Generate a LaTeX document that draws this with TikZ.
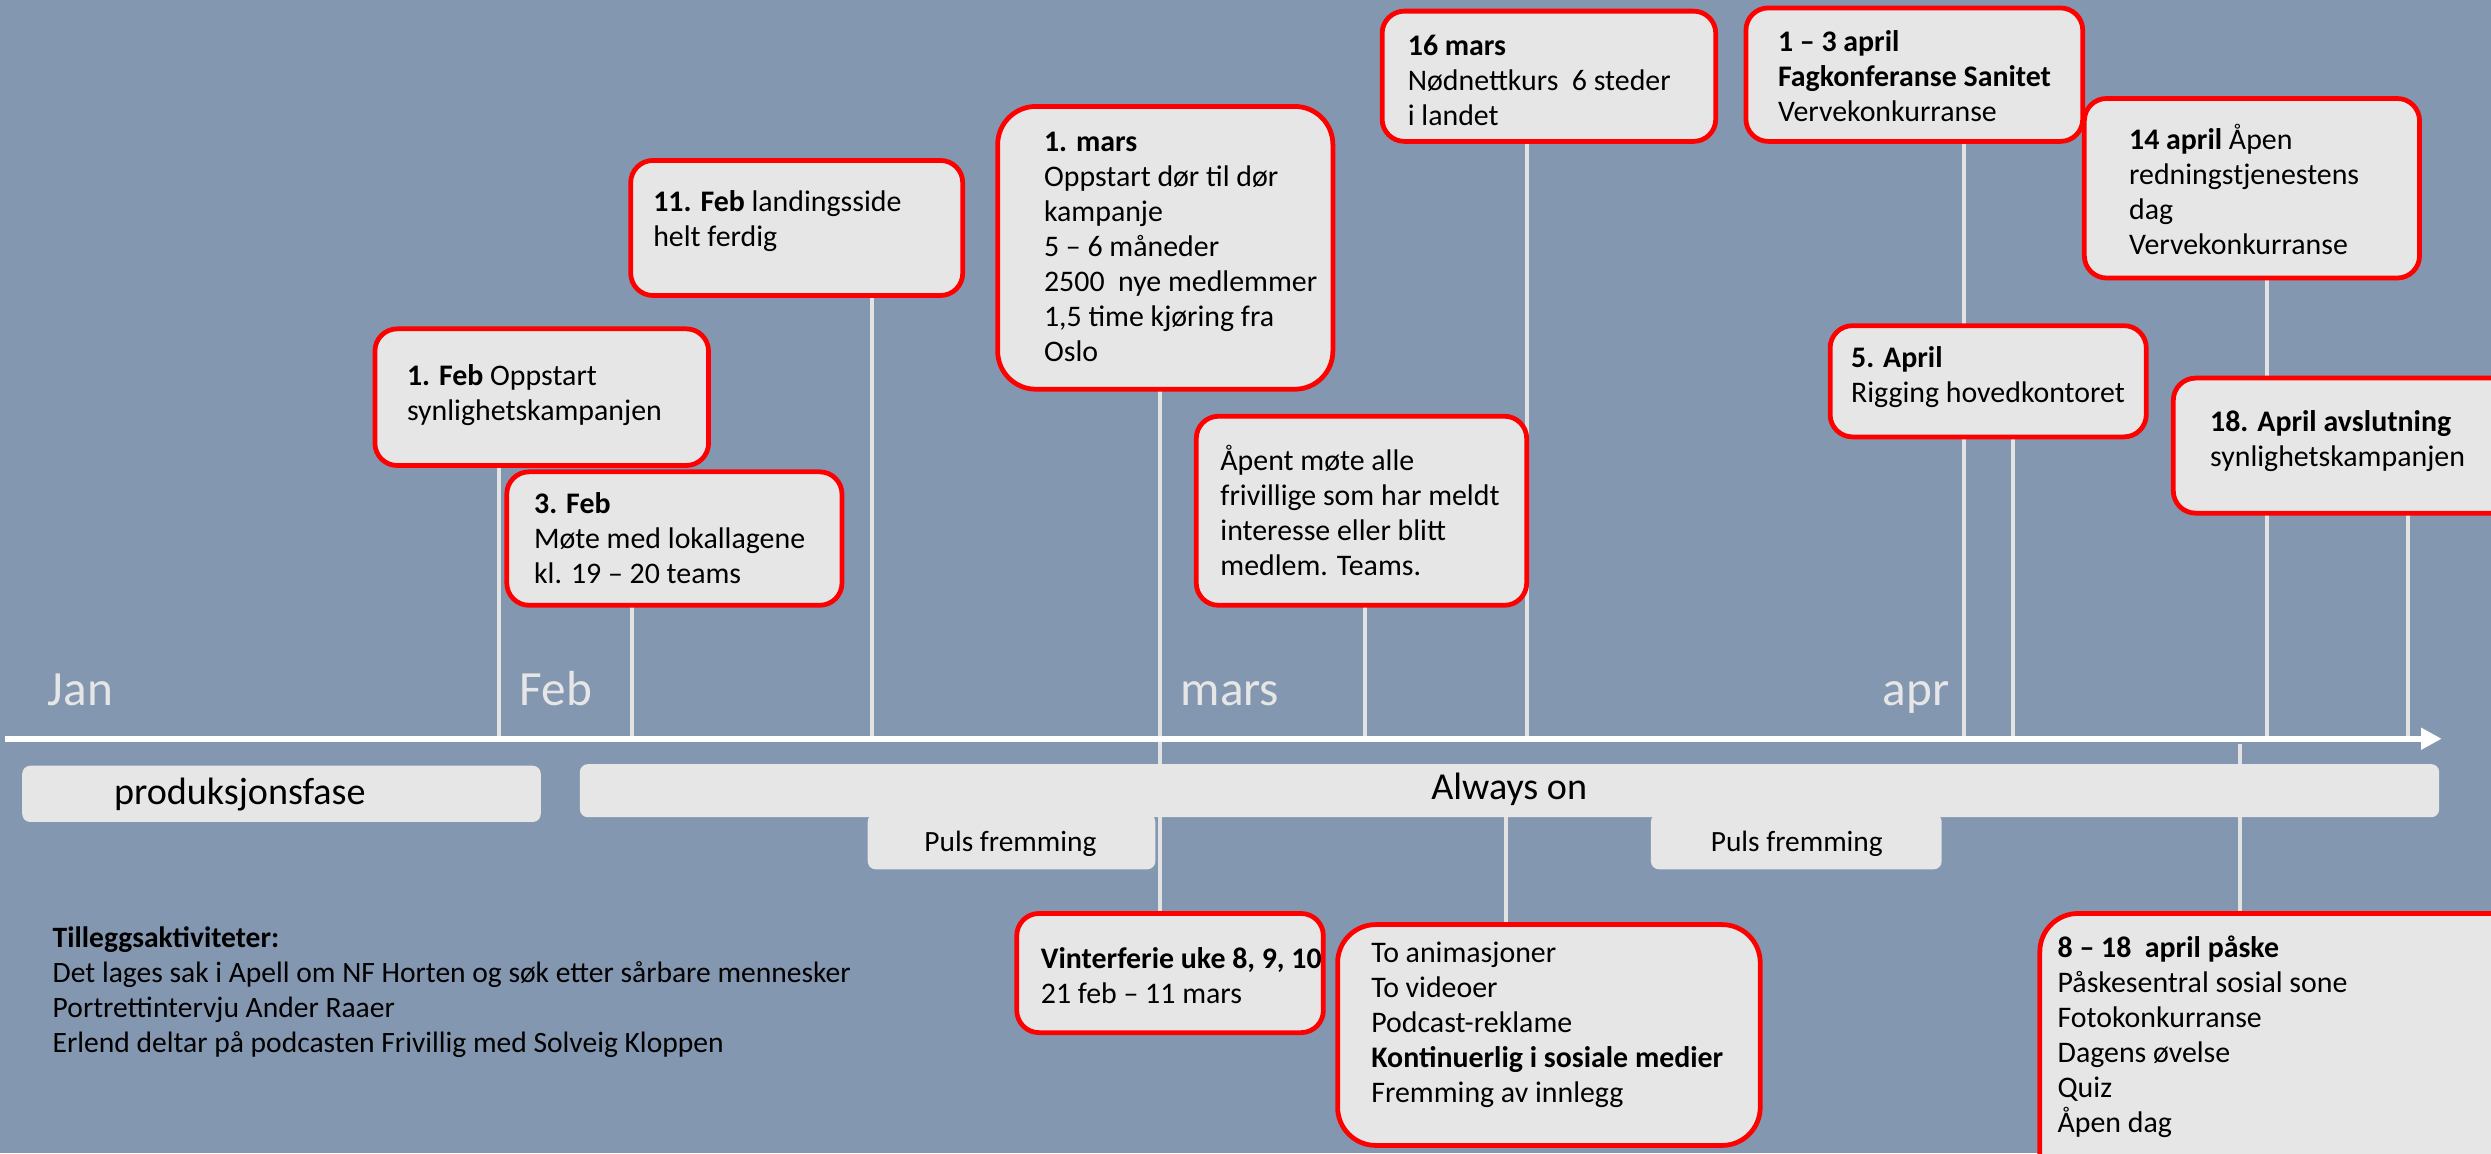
\documentclass[tikz,border=0pt]{standalone}
\usepackage{fontspec}
\setmainfont{Carlito}
\usetikzlibrary{arrows.meta,calc}
\definecolor{bg}{HTML}{8497B0}
\definecolor{boxfill}{HTML}{E7E6E6}
\definecolor{evred}{HTML}{FF0000}
\definecolor{vl}{HTML}{E3E3E3}
\begin{document}
\begin{tikzpicture}[x=1pt,y=-1pt,
 evbox/.style={draw=evred, line width=3pt, fill=boxfill, rounded corners=14pt, inner sep=0pt, anchor=north west},
 bigbox/.style={evbox, rounded corners=24pt},
 evtext/.style={anchor=north west, align=left, inner sep=0pt, font=\fontsize{18.8}{22}\selectfont, text=black},
 bar/.style={fill=boxfill, rounded corners=5pt, inner sep=0pt, anchor=north west},
 bartext/.style={inner sep=0pt, text=black},
 vline/.style={draw=vl, line width=2.6pt},
 month/.style={text=boxfill, font=\fontsize{31}{36}\selectfont, anchor=base west, inner sep=0pt},
]
\fill[bg] (0,0) rectangle (1568,726);
\useasboundingbox (0,0) rectangle (1568,726);

% axis coordinates
\coordinate (axL) at (3,465);
\coordinate (axR) at (1537,465);
\coordinate (t1) at (314,463);
\coordinate (t2) at (398,463);
\coordinate (t3) at (549,463);
\coordinate (t4) at (730,463);
\coordinate (t5) at (859,463);
\coordinate (t6) at (961,463);
\coordinate (t7) at (1236,463);
\coordinate (t8) at (1267,463);
\coordinate (t9) at (1427,463);
\coordinate (t10) at (1516,463);
\coordinate (b1) at (948,500);
\coordinate (b2) at (1410,468);

% box geometry (drawn later)
\path
 node[evbox, minimum width=207pt, minimum height=83pt, draw=none, fill=none] (feb1) at (236,207) {}
 node[evbox, minimum width=208pt, minimum height=81pt, draw=none, fill=none] (feb3) at (319,297) {}
 node[evbox, minimum width=206pt, minimum height=82pt, draw=none, fill=none] (feb11) at (397,101) {}
 node[bigbox, minimum width=208pt, minimum height=175pt, draw=none, fill=none] (mars1) at (628,67) {}
 node[evbox, minimum width=207pt, minimum height=79pt, draw=none, fill=none] (mars16) at (870,7) {}
 node[evbox, minimum width=205pt, minimum height=116pt, draw=none, fill=none] (apent) at (753,262) {}
 node[evbox, minimum width=209pt, minimum height=81pt, draw=none, fill=none] (apr13) at (1099,5) {}
 node[evbox, minimum width=196pt, minimum height=67pt, draw=none, fill=none] (apr5) at (1152,205) {}
 node[evbox, minimum width=208pt, minimum height=110pt, draw=none, fill=none] (apr14) at (1312,62) {}
 node[evbox, minimum width=240pt, minimum height=82pt, draw=none, fill=none] (apr18) at (1368,238) {}
 node[evbox, minimum width=190pt, minimum height=72pt, draw=none, fill=none] (vint) at (640,575) {}
 node[bigbox, minimum width=263pt, minimum height=136pt, draw=none, fill=none] (anim) at (842,582) {}
 node[bigbox, minimum width=320pt, minimum height=190pt, draw=none, fill=none] (pask) at (1284,575) {};

\path
 node[bar, minimum width=326pt, minimum height=35pt, fill=none] (prod) at (14,482) {}
 node[bar, minimum width=1170pt, minimum height=33pt, fill=none] (always) at (365,481) {};

% connectors
\draw[vline] (t1 |- feb1.south) -- (t1);
\draw[vline] (t2 |- feb3.south) -- (t2);
\draw[vline] (t3 |- feb11.south) -- (t3);
\draw[vline] (t4 |- mars1.south) -- (t4 |- vint.north);
\draw[vline] (t5 |- apent.south) -- (t5);
\draw[vline] (t6 |- mars16.south) -- (t6);
\draw[vline] (t7 |- apr13.south) -- (t7);
\draw[vline] (t8 |- apr5.south) -- (t8);
\draw[vline] (t9 |- apr14.south) -- (t9);
\draw[vline] (t10 |- apr18.south) -- (t10);
\draw[vline] (b1 |- always.south) -- (b1 |- anim.north);
\draw[vline] (b2) -- (b2 |- pask.north);

% axis
\draw[white, line width=4pt, -{Triangle[length=13pt,width=13pt]}] (axL) -- (axR);

% month labels
\node[month] (mjan) at (30,444) {Jan};
\node[month] (mfeb) at (327,444) {Feb};
\node[month] (mmar) at (743,444) {mars};
\node[month] (mapr) at (1185,444) {apr};

% bars
\node[bar, minimum width=181pt, minimum height=35pt] (puls1) at (546,512) {};
\node[bar, minimum width=183pt, minimum height=35pt] (puls2) at (1039,512) {};
\fill[boxfill, rounded corners=5pt] (prod.north west) rectangle (prod.south east);
\fill[boxfill, rounded corners=5pt] (always.north west) rectangle (always.south east);
\node[bartext, font=\fontsize{24}{28}\selectfont] (prodt) at (151,500) {produksjonsfase};
\node[bartext, font=\fontsize{24}{28}\selectfont] (alwayst) at (950,497) {Always on};
\node[bartext, font=\fontsize{18.5}{22}\selectfont] (puls1t) at (636,531) {Puls fremming};
\node[bartext, font=\fontsize{18.5}{22}\selectfont] (puls2t) at (1131,531) {Puls fremming};

% event boxes drawn
\foreach \n in {feb1,feb3,feb11,mars16,apent,apr13,apr5,apr14,apr18,vint}{
  \draw[draw=evred, line width=3pt, fill=boxfill, rounded corners=14pt] (\n.north west) rectangle (\n.south east);
}
\foreach \n in {mars1,anim,pask}{
  \draw[draw=evred, line width=3pt, fill=boxfill, rounded corners=24pt] (\n.north west) rectangle (\n.south east);
}

% texts
\node[evtext] (feb1t) at (256,229) {\textbf{1. Feb} Oppstart\\synlighetskampanjen};
\node[evtext] (feb3t) at (336,310) {\textbf{3. Feb}\\Møte med lokallagene\\kl. 19 – 20 teams};
\node[evtext] (feb11t) at (411,120) {\textbf{11. Feb} landingsside\\helt ferdig};
\node[evtext] (mars1t) at (657,83) {\textbf{1. mars}\\Oppstart dør til dør\\kampanje\\5 – 6 måneder\\2500\ \ nye medlemmer\\1,5 time kjøring fra\\Oslo};
\node[evtext] (mars16t) at (886,22) {\textbf{16 mars}\\Nødnettkurs\ \ 6 steder\\i landet};
\node[evtext] (apentt) at (768,280) {Åpent møte alle\\frivillige som har meldt\\interesse eller blitt\\medlem. Teams.};
\node[evtext] (apr13t) at (1119,19) {\textbf{1 – 3 april}\\\textbf{Fagkonferanse Sanitet}\\Vervekonkurranse};
\node[evtext] (apr5t) at (1165,218) {\textbf{5. April}\\Rigging hovedkontoret};
\node[evtext] (apr14t) at (1340,78) {\textbf{14 april} Åpen\\redningstjenestens\\dag\\Vervekonkurranse};
\node[evtext] (apr18t) at (1391,258) {\textbf{18. April avslutning}\\synlighetskampanjen};
\node[evtext] (vintt) at (655,596) {\textbf{Vinterferie uke 8, 9, 10}\\21 feb – 11 mars};
\node[evtext] (animt) at (863,593) {To animasjoner\\To videoer\\Podcast-reklame\\\textbf{Kontinuerlig i sosiale medier}\\Fremming av innlegg};
\node[evtext] (paskt) at (1295,589) {\textbf{8 – 18\ \ april påske}\\Påskesentral sosial sone\\Fotokonkurranse\\Dagens øvelse\\Quiz\\Åpen dag};

\node[evtext, font=\fontsize{18.6}{22}\selectfont] (tillegg) at (33,583) {\textbf{Tilleggsaktiviteter:}\\Det lages sak i Apell om NF Horten og søk etter sårbare mennesker\\Portrettintervju Ander Raaer\\Erlend deltar på podcasten Frivillig med Solveig Kloppen};
\end{tikzpicture}
\end{document}
